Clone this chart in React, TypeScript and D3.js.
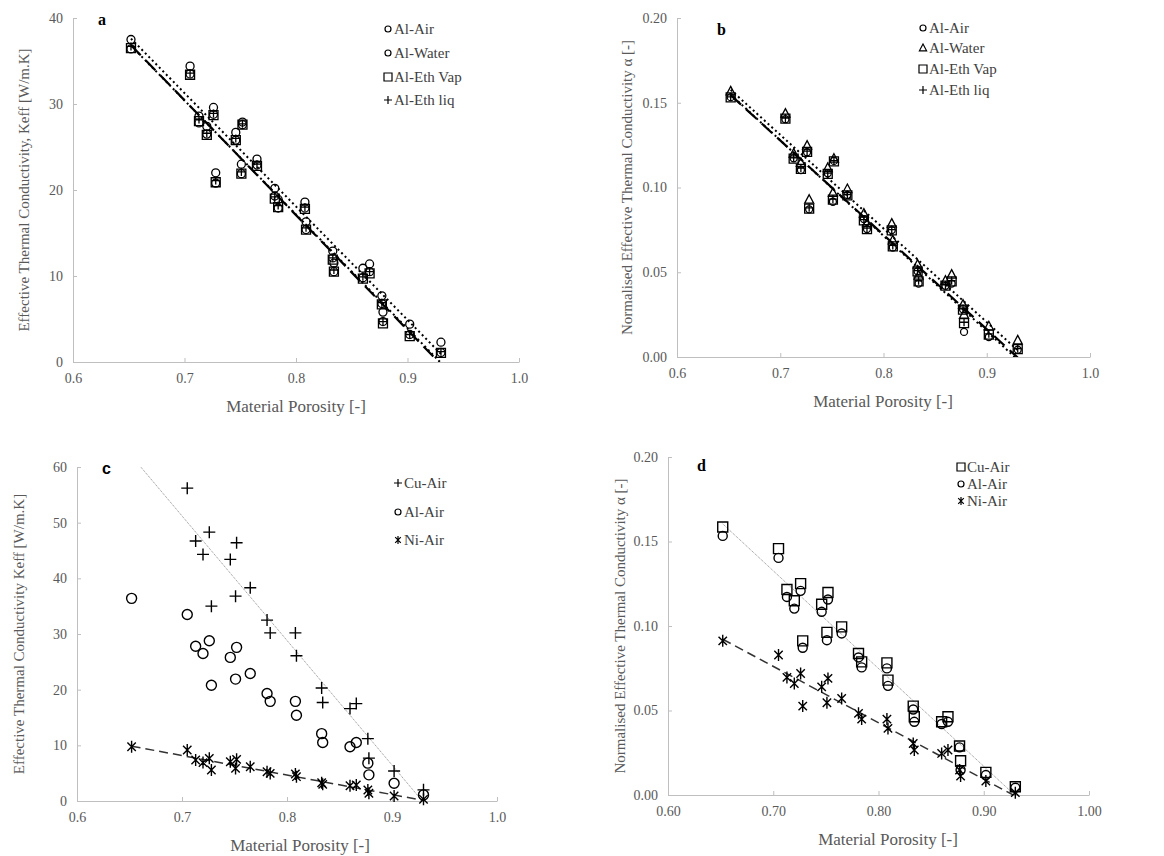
import React, { useRef, useEffect } from "react";
import { select, scaleLinear, axisLeft, axisBottom, format, range, line } from "d3";

// porosity of the 22 samples (shared by every series)
const porosity = [0.652, 0.705, 0.713, 0.72, 0.726, 0.728, 0.746, 0.752, 0.751, 0.765, 0.781, 0.784, 0.808, 0.809, 0.833, 0.834, 0.86, 0.866, 0.877, 0.878, 0.902, 0.93];

// panel a - Keff [W/m.K]
const aAlAir = [36.4, 33.5, 27.8, 26.5, 28.8, 20.8, 25.8, 27.6, 21.9, 22.9, 19.3, 17.9, 17.9, 15.4, 12.1, 10.5, 9.8, 10.5, 6.8, 4.7, 3.2, 1.1];
const aAlWater = [37.5, 34.4, 28.6, 27.4, 29.6, 22.0, 26.7, 27.9, 23.0, 23.6, 20.2, 18.9, 18.6, 16.3, 12.9, 11.5, 10.9, 11.4, 7.7, 5.8, 4.4, 2.3];
const aAlEthVap = [36.5, 33.4, 28.0, 26.4, 28.7, 20.9, 25.8, 27.6, 21.9, 22.8, 19.0, 18.0, 17.8, 15.4, 11.9, 10.5, 9.7, 10.3, 6.7, 4.5, 3.0, 1.05];
const aAlEthLiq = [36.7, 33.6, 28.2, 26.6, 28.9, 21.1, 26.0, 27.7, 22.1, 23.0, 19.2, 18.2, 18.0, 15.6, 12.1, 10.7, 9.9, 10.5, 6.9, 4.7, 3.2, 1.2];

// panel b - normalised alpha
const bAlAir = [0.1533, 0.1403, 0.1172, 0.1103, 0.1208, 0.0871, 0.1084, 0.1157, 0.0916, 0.0956, 0.0814, 0.0755, 0.0749, 0.0646, 0.0506, 0.0433, 0.042, 0.0433, 0.0282, 0.0148, 0.0118, 0.0043];
const bAlWater = [0.1567, 0.1436, 0.12, 0.1145, 0.1247, 0.0928, 0.1115, 0.117, 0.0968, 0.0991, 0.0846, 0.079, 0.0787, 0.0688, 0.0545, 0.048, 0.045, 0.0486, 0.0309, 0.025, 0.0181, 0.0098];
const bAlEthVap = [0.1532, 0.1406, 0.117, 0.111, 0.121, 0.0875, 0.108, 0.1154, 0.0928, 0.0954, 0.0806, 0.0755, 0.0747, 0.0653, 0.0505, 0.0446, 0.0421, 0.0446, 0.0279, 0.02, 0.0132, 0.0047];
const bAlEthLiq = [0.1535, 0.141, 0.1175, 0.1115, 0.1215, 0.088, 0.1085, 0.1158, 0.0932, 0.0958, 0.081, 0.076, 0.0752, 0.0658, 0.051, 0.045, 0.0425, 0.045, 0.0284, 0.0205, 0.0137, 0.005];

// panel c - Keff [W/m.K]
const cCuAir = [null, 56.2, 46.7, 44.3, 48.3, 35.0, 43.4, 46.4, 36.8, 38.3, 32.5, 30.2, 30.2, 26.1, 20.3, 17.7, 16.6, 17.5, 11.2, 7.7, 5.4, 2.0];
const cAlAir = [36.4, 33.5, 27.8, 26.5, 28.8, 20.8, 25.8, 27.6, 21.9, 22.9, 19.3, 17.9, 17.9, 15.4, 12.1, 10.5, 9.75, 10.5, 6.8, 4.7, 3.2, 1.1];
const cNiAir = [9.75, 9.15, 7.36, 6.9, 7.66, 5.56, 7.06, 7.48, 5.86, 6.16, 5.26, 4.96, 4.84, 4.37, 3.29, 2.99, 2.75, 2.87, 1.97, 1.38, 0.9, 0.3];

// panel d - normalised alpha
const dCuAir = [0.1586, 0.1458, 0.1216, 0.1149, 0.1251, 0.0912, 0.1129, 0.1198, 0.0962, 0.0995, 0.0837, 0.0788, 0.0782, 0.068, 0.0526, 0.0463, 0.0433, 0.0463, 0.029, 0.0203, 0.0134, 0.0049];
const dAlAir = [0.1533, 0.1403, 0.1172, 0.1103, 0.1208, 0.0871, 0.1084, 0.1157, 0.0916, 0.0956, 0.0814, 0.0755, 0.0749, 0.0646, 0.0506, 0.0433, 0.042, 0.0433, 0.0282, 0.0148, 0.0118, 0.0043];
const dNiAir = [0.0912, 0.0828, 0.0696, 0.066, 0.0719, 0.0526, 0.064, 0.069, 0.0546, 0.0571, 0.0483, 0.0449, 0.0449, 0.0394, 0.0305, 0.0266, 0.0246, 0.0266, 0.0148, 0.0112, 0.0083, 0.0014];

const serif = "Liberation Serif, DejaVu Serif, serif";

const panels = [
  {
    left: 73, right: 519, top: 18, bottom: 362, yMax: 40, yStep: 10, yFmt: "d", xFmt: ".1f",
    yTitle: "Effective Thermal Conductivity, Keff [W/m.K]", yTitleX: 24, xTitleX: 296,
    letter: "a", letterX: 98, letterY: 25, letterFont: serif,
    legendX: 388, legendY: [29, 53, 77, 100],
    series: [
      { name: "Al-Air", values: aAlAir, marker: "circle", size: 4, legendSize: 3, trend: "dot" },
      { name: "Al-Water", values: aAlWater, marker: "circle", size: 4, legendSize: 3, trend: "dot" },
      { name: "Al-Eth Vap", values: aAlEthVap, marker: "square", size: 4.5, legendSize: 4, trend: "dash" },
      { name: "Al-Eth liq", values: aAlEthLiq, marker: "plus", size: 4, legendSize: 4, trend: null },
    ],
  },
  {
    left: 677, right: 1090, top: 18, bottom: 357, yMax: 0.2, yStep: 0.05, yFmt: ".2f", xFmt: ".1f",
    yTitle: "Normalised Effective Thermal Conductivity α [-]", yTitleX: 627, xTitleX: 883,
    letter: "b", letterX: 717, letterY: 35, letterFont: serif,
    legendX: 923, legendY: [28, 48, 69, 90],
    series: [
      { name: "Al-Air", values: bAlAir, marker: "circle", size: 3.5, legendSize: 3, trend: "dot" },
      { name: "Al-Water", values: bAlWater, marker: "triangle", size: 5, legendSize: 4, trend: "dot" },
      { name: "Al-Eth Vap", values: bAlEthVap, marker: "square", size: 4.5, legendSize: 4, trend: "dash" },
      { name: "Al-Eth liq", values: bAlEthLiq, marker: "plus", size: 4, legendSize: 4, trend: null },
    ],
  },
  {
    left: 77, right: 497, top: 467, bottom: 801, yMax: 60, yStep: 10, yFmt: "d", xFmt: ".1f",
    yTitle: "Effective Thermal Conductivity Keff [W/m.K]", yTitleX: 19, xTitleX: 300,
    letter: "c", letterX: 102, letterY: 474, letterFont: "Liberation Sans, Arial, sans-serif",
    legendX: 398, legendY: [483, 512, 540],
    series: [
      { name: "Cu-Air", values: cCuAir, marker: "plus", size: 6, legendSize: 4, trend: "grey" },
      { name: "Al-Air", values: cAlAir, marker: "circle", size: 5, legendSize: 3, trend: null },
      { name: "Ni-Air", values: cNiAir, marker: "star", size: 6, legendSize: 4, trend: "dash2" },
    ],
  },
  {
    left: 668, right: 1089, top: 457, bottom: 795, yMax: 0.2, yStep: 0.05, yFmt: ".2f", xFmt: ".2f",
    yTitle: "Normalised Effective Thermal Conductivity α [-]", yTitleX: 620, xTitleX: 888,
    letter: "d", letterX: 697, letterY: 471, letterFont: serif,
    legendX: 961, legendY: [467, 484, 501],
    series: [
      { name: "Cu-Air", values: dCuAir, marker: "square", size: 5, legendSize: 4, trend: "grey" },
      { name: "Al-Air", values: dAlAir, marker: "circle", size: 4.5, legendSize: 3, trend: null },
      { name: "Ni-Air", values: dNiAir, marker: "star", size: 6, legendSize: 4, trend: "dash2" },
    ],
  },
];

// least squares line through the non-null points
function linearFit(xs, ys) {
  const pts = xs.map((x, i) => [x, ys[i]]).filter((d) => d[1] != null);
  const n = pts.length;
  const mx = pts.reduce((s, d) => s + d[0], 0) / n;
  const my = pts.reduce((s, d) => s + d[1], 0) / n;
  let sxy = 0, sxx = 0;
  pts.forEach((d) => { sxy += (d[0] - mx) * (d[1] - my); sxx += (d[0] - mx) ** 2; });
  const m = sxy / sxx;
  return (x) => my + m * (x - mx);
}

function markerPath(type, s) {
  if (type === "square") return `M${-s},${-s}H${s}V${s}H${-s}Z`;
  if (type === "triangle") return `M0,${-s}L${s * 0.9},${s * 0.7}H${-s * 0.9}Z`;
  if (type === "plus") return `M${-s},0H${s}M0,${-s}V${s}`;
  if (type === "star") return `M0,${-s}V${s}M${-s * 0.7},${-s * 0.7}L${s * 0.7},${s * 0.7}M${-s * 0.7},${s * 0.7}L${s * 0.7},${-s * 0.7}`;
  return null;
}

function drawMarker(g, type, s, cx, cy, sw) {
  if (type === "circle") {
    g.append("circle").attr("cx", cx).attr("cy", cy).attr("r", s)
      .attr("fill", "none").attr("stroke", "#000").attr("stroke-width", sw);
  } else {
    g.append("path").attr("d", markerPath(type, s)).attr("transform", `translate(${cx},${cy})`)
      .attr("fill", "none").attr("stroke", "#000").attr("stroke-width", sw);
  }
}

const trendStyle = {
  dot: { stroke: "#000", width: 2, dash: "2,3" },
  dash: { stroke: "#000", width: 2.2, dash: "14,7" },
  grey: { stroke: "#8c8c8c", width: 1, dash: "1,1" },
  dash2: { stroke: "#333", width: 1.5, dash: "9,5" },
};

const App = () => {
  const svgRef = useRef();

  useEffect(() => {
    const svg = select(svgRef.current);
    svg.selectAll("*").remove();

    panels.forEach((p, pi) => {
      const x = scaleLinear().domain([0.6, 1.0]).range([p.left, p.right]);
      const y = scaleLinear().domain([0, p.yMax]).range([p.bottom, p.top]);
      const g = svg.append("g").attr("font-family", serif);

      svg.append("clipPath").attr("id", "clip" + pi)
        .append("rect").attr("x", p.left).attr("y", p.top)
        .attr("width", p.right - p.left).attr("height", p.bottom - p.top);

      const yAxis = axisLeft(y)
        .tickValues(range(0, p.yMax + p.yStep / 2, p.yStep))
        .tickFormat(format(p.yFmt)).tickSizeInner(-4).tickSizeOuter(0).tickPadding(10);
      const xAxis = axisBottom(x)
        .tickValues([0.6, 0.7, 0.8, 0.9, 1.0])
        .tickFormat(format(p.xFmt)).tickSizeInner(-4).tickSizeOuter(0).tickPadding(11);

      const ya = g.append("g").attr("transform", `translate(${p.left},0)`).call(yAxis);
      const xa = g.append("g").attr("transform", `translate(0,${p.bottom})`).call(xAxis);
      [ya, xa].forEach((a) => {
        a.attr("font-family", serif).attr("font-size", 14);
        a.select(".domain").attr("stroke", "#bfbfbf");
        a.selectAll(".tick line").attr("stroke", "#bfbfbf");
        a.selectAll(".tick text").attr("fill", "#595959");
      });

      // axis titles
      g.append("text").attr("x", p.xTitleX).attr("y", p.bottom + 50)
        .attr("text-anchor", "middle").attr("fill", "#595959")
        .attr("font-size", 17)
        .text("Material Porosity [-]");
      g.append("text")
        .attr("transform", `translate(${p.yTitleX},${(p.top + p.bottom) / 2}) rotate(-90)`)
        .attr("text-anchor", "middle").attr("dominant-baseline", "central").attr("fill", "#595959")
        .attr("font-size", 15)
        .text(p.yTitle);

      // trendlines
      const lines = g.append("g").attr("clip-path", `url(#clip${pi})`);
      p.series.forEach((s) => {
        if (!s.trend) return;
        const f = linearFit(porosity, s.values);
        const st = trendStyle[s.trend];
        const xr = [porosity[0], porosity[porosity.length - 1]];
        lines.append("path")
          .attr("d", line().x((d) => x(d)).y((d) => y(f(d)))(xr))
          .attr("fill", "none").attr("stroke", st.stroke)
          .attr("stroke-width", st.width).attr("stroke-dasharray", st.dash);
      });

      // points
      p.series.forEach((s) => {
        const sg = g.append("g");
        s.values.forEach((v, i) => {
          if (v == null || v > p.yMax) return;
          drawMarker(sg, s.marker, s.size, x(porosity[i]), y(v), pi < 2 ? 1.3 : 1.4);
        });
      });

      // legend
      p.series.forEach((s, i) => {
        const ly = p.legendY[i];
        drawMarker(g, s.marker, s.legendSize, p.legendX, ly, 1.2);
        g.append("text").attr("x", p.legendX + 6).attr("y", ly)
          .attr("dominant-baseline", "central").attr("fill", "#404040")
          .attr("font-size", 15)
          .text(s.name);
      });

      // panel letter
      g.append("text").attr("x", p.letterX).attr("y", p.letterY)
        .attr("fill", "#000").attr("font-family", p.letterFont)
        .attr("font-size", 16).attr("font-weight", "bold")
        .text(p.letter);
    });
  }, []);

  return (
    <div style={{ position: "absolute", left: 0, top: 0, background: "#fff" }}>
      <svg ref={svgRef} width={1164} height={856} />
    </div>
  );
};

export default App;
